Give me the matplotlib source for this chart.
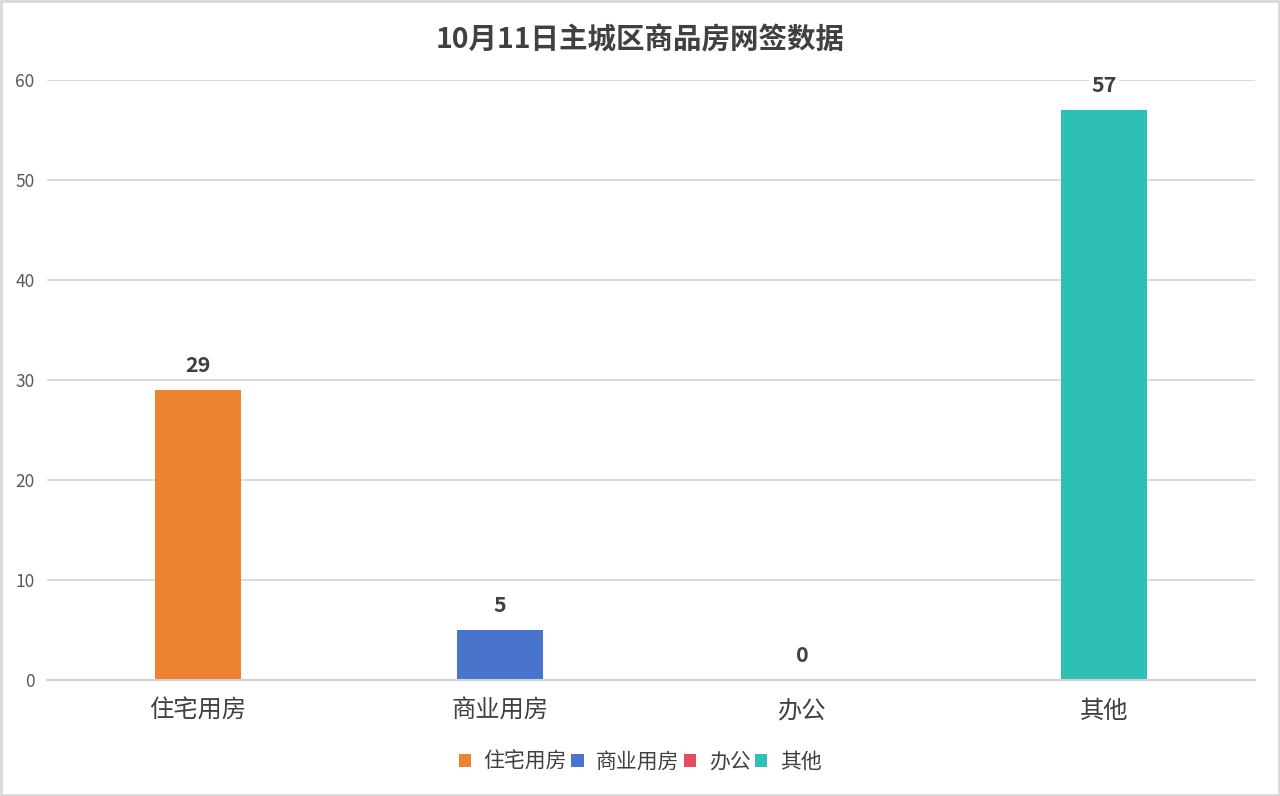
import matplotlib
matplotlib.use("Agg")
import matplotlib.pyplot as plt
from matplotlib.patches import Patch, Rectangle

plt.rcParams['font.family'] = ['Noto Sans CJK SC', 'DejaVu Sans']

title = "10月11日主城区商品房网签数据"
categories = ["住宅用房", "商业用房", "办公", "其他"]
values = [29, 5, 0, 57]
colors = ["#ED8331", "#4874CB", "#E54C5E", "#2EC0B4"]
yticks = [0, 10, 20, 30, 40, 50, 60]

fig = plt.figure(figsize=(12.8, 7.96), dpi=100)
ax = fig.add_axes([47/1280, 1-680/796, (1255-47)/1280, 600/796])

x = list(range(len(categories)))
ax.bar(x, values, width=0.288, color=colors, zorder=3)
ax.set_xlim(-0.5, len(categories)-0.5)
ax.set_ylim(0, 60)
ax.set_yticks(yticks)
ax.set_yticklabels([str(t) for t in yticks], fontsize=12.5, color="#595959")
ax.set_xticks(x)
ax.set_xticklabels(categories, fontsize=17.5, color="#404040")
ax.tick_params(axis='y', length=0, pad=9)
ax.tick_params(axis='x', length=0, pad=13)
ax.grid(axis='y', color="#D9D9D9", linewidth=1.3, zorder=0)
for s in ['top', 'right', 'left']:
    ax.spines[s].set_visible(False)
ax.spines['bottom'].set_color("#D0D0D0")
ax.spines['bottom'].set_linewidth(1.5)
ax.spines['bottom'].set_zorder(4)

for xi, v in zip(x, values):
    ax.annotate(str(v), (xi, v), xytext=(0, 18), textcoords='offset points',
                ha='center', va='center', fontsize=15.5, fontweight='bold', color="#404040",
                bbox=dict(facecolor='white', edgecolor='none', pad=2), zorder=5)

fig.text(0.5, 1-40/796, title, ha='center', va='center', fontsize=20.5,
         fontweight='bold', color="#404040")

handles = [Patch(facecolor=c, edgecolor='none') for c in colors]
fig.legend(handles, categories, loc='center', bbox_to_anchor=(0.5, 1-762/796), ncol=4,
           frameon=False, fontsize=15, handlelength=0.6, handleheight=0.6,
           handletextpad=0.6, columnspacing=0.2, labelcolor="#404040")

fig.patches.append(Rectangle((0.001, 0.001), 0.998, 0.998, transform=fig.transFigure,
                             fill=False, edgecolor="#D9D9D9", linewidth=2))

fig.savefig("out.png", dpi=100, facecolor='white')
